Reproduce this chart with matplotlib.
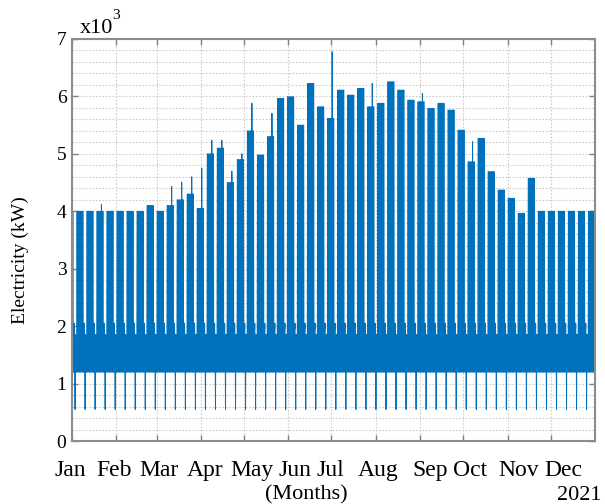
import numpy as np
import matplotlib.pyplot as plt

plt.rcParams['font.family'] = ['Liberation Serif', 'DejaVu Serif']

# weekday daytime peak (kW) per Mon-Fri week, week 0 starts Mon 4 Jan 2021
week_peak = [4000, 4000, 4000, 4000, 4000, 4000,
             4000, 4100, 4000, 4100, 4200, 4300, 4050, 5000, 5100, 4500,
             4900, 5400, 4980, 5300, 5965, 5994, 5500, 6226, 5820, 5617,
             6110, 6023, 6140, 5820, 5880, 6255, 6110, 5936, 5907, 5790,
             5880, 5762, 5413, 4862, 5270, 4690, 4370, 4226, 3964, 4574,
             4000, 4000, 4000, 4000, 4000, 4000]

# short one-hour spikes (week index -> kW), drawn on the Thursday of that week
week_spike = {2: 4120, 9: 4430, 10: 4510, 11: 4600, 12: 4750, 13: 5240,
              14: 5240, 15: 4700, 16: 5000, 17: 5880, 19: 5705, 25: 6778,
              29: 6226, 34: 6050, 39: 5211}

jan1_peak = 4000          # Fri 1 Jan
weekday_night = 1200
# hourly share of (peak - night) on a working day
weekday_shape = [0, 0, 0, 0, 0, 0, 0.3, 0.8, 1, 1, 1, 1,
                 1, 1, 1, 1, 1, 1, 0.6, 0.2, 0, 0, 0, 0]
# hourly load on Saturday / Sunday (kW)
saturday_load = [1200, 1200, 1200, 1200, 1200, 1200, 1500, 1900, 2000, 2050, 2000, 1950,
                 2000, 2050, 2000, 1950, 1900, 1800, 1500, 1200, 1200, 1200, 1200, 1200]
sunday_load = [1200, 1000, 800, 550, 800, 1100, 1300, 1600, 1800, 1850, 1800, 1800,
               1850, 1800, 1750, 1700, 1600, 1500, 1300, 1200, 1200, 1200, 1200, 1200]

month_ticks = [0, 31, 59, 90, 120, 151, 181, 212, 243, 273, 304, 334]
month_names = ['Jan', 'Feb', 'Mar', 'Apr', 'May', 'Jun',
               'Jul', 'Aug', 'Sep', 'Oct', 'Nov', 'Dec']
label_pos = [-1.0, 29.3, 60.7, 92.8, 125.6, 155.6, 180.1, 213.6, 249.8, 277.8, 312.0, 342.7]
y_ticks = [0, 1000, 2000, 3000, 4000, 5000, 6000, 7000]
y_labels = ['0', '1', '2', '3', '4', '5', '6', '7']

# assemble the hourly series day by day (day 0 = Fri 1 Jan)
load = []
for d in range(365):
    dow = (d + 4) % 7   # 0 = Mon
    if dow == 5:
        load += saturday_load
    elif dow == 6:
        load += sunday_load
    else:
        if d < 3:
            pk = jan1_peak
            k = -1
        else:
            k = (d - 3) // 7
            pk = week_peak[k]
        day = [weekday_night + s * (pk - weekday_night) for s in weekday_shape]
        if dow == 3 and k in week_spike:
            day[13] = week_spike[k]
        load += day
load = np.array(load)
t = np.arange(len(load)) / 24.0

fig = plt.figure(figsize=(6.05, 5.04), dpi=100)
ax = fig.add_axes([72 / 605, 1 - 441 / 504, 523 / 605, 402 / 504])

ax.plot(t, load, color='#0072BD', lw=0.7)

ax.set_xlim(0, 365)
ax.set_ylim(0, 7000)
ax.set_xticks(month_ticks)
ax.set_xticklabels([])
ax.set_yticks(y_ticks)
ax.set_yticklabels(y_labels, fontsize=14)
ax.set_yticks(np.arange(0, 7001, 200), minor=True)

ax.grid(which='both', axis='y', linestyle=(0, (1.5, 1.5)), color='#cccccc', lw=0.8)
ax.grid(which='major', axis='x', linestyle=(0, (1.5, 1.5)), color='#cccccc', lw=0.8)
ax.set_axisbelow(True)

ax.tick_params(which='major', direction='in', top=True, right=True,
               length=4, width=1, color='#808080', pad=4)
ax.tick_params(which='minor', length=0)
for s in ax.spines.values():
    s.set_color('#8c8c8c')
    s.set_linewidth(1.5)

for pos, name in zip(label_pos, month_names):
    ax.text(pos, -0.087, name, transform=ax.get_xaxis_transform(),
            ha='center', va='baseline', fontsize=17)

fig.text(306 / 605, 1 - 499.5 / 504, '(Months)', ha='center', va='baseline', fontsize=16)
fig.text(602 / 605, 1 - 499.5 / 504, '2021', ha='right', va='baseline', fontsize=16)
fig.text(20 / 605, 1 - 260 / 504, 'Electricity (kW)', rotation=90,
         ha='center', va='center', fontsize=14)
fig.text(80 / 605, 1 - 33 / 504, 'x10', ha='left', va='baseline', fontsize=16)
fig.text(112 / 605, 1 - 19 / 504, '3', ha='left', va='baseline', fontsize=11)

fig.savefig('out.png', dpi=100)
